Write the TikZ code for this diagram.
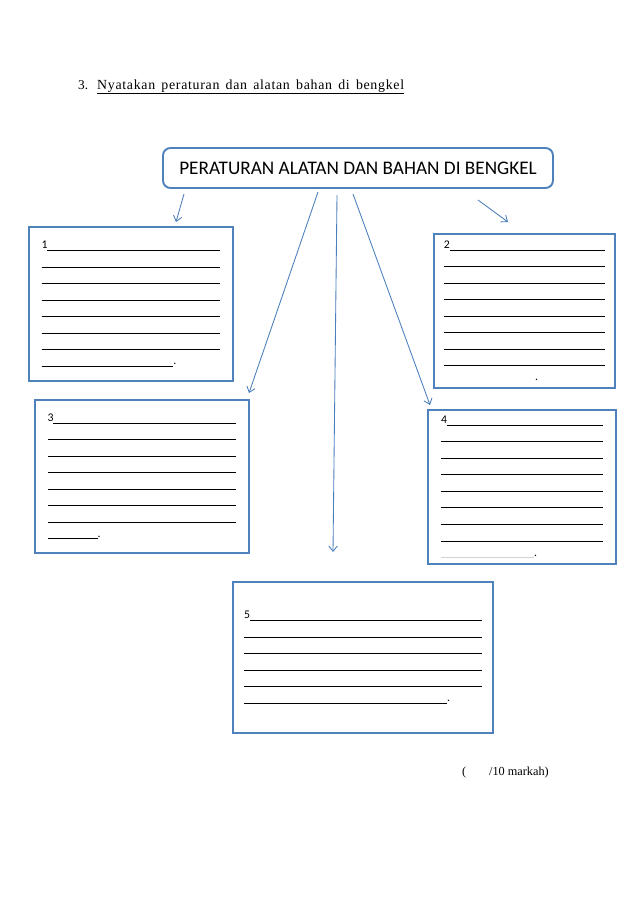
\documentclass[tikz,border=0pt]{standalone}
\usepackage{fontspec}
\setmainfont{Carlito}
\newfontfamily\timesfont[LetterSpace=5]{Liberation Serif}
\newfontfamily\plaintimes{Liberation Serif}
\usetikzlibrary{arrows.meta}
\definecolor{boxblue}{HTML}{4F81BD}
\definecolor{arrowblue}{HTML}{4A7EBB}
\newcommand\px{0.032915cm}
\newcommand\ansline[2][]{\makebox[#2][l]{#1\leaders\hrule height -1pt depth 1.7pt\hfill}}
\begin{document}
\begin{tikzpicture}[x=\px,y=-\px,
  hdrbox/.style={draw=boxblue,line width=1.8pt,rounded corners=7pt,inner sep=0pt,
    minimum width=390*\px,minimum height=40*\px,font=\fontsize{18}{20}\selectfont},
  answerbox/.style={draw=boxblue,line width=2pt,inner sep=0pt,align=left,
    font=\fontsize{11}{15.5}\selectfont},
  link/.style={arrowblue,line width=0.8pt,-{Straight Barb[length=5pt,width=8pt]}}]
\useasboundingbox (0,0) rectangle (638,903);
\node[anchor=base west,inner sep=0pt,font=\plaintimes\fontsize{12.5}{14}\selectfont] (qnum) at (78,89) {3.};
\node[anchor=base west,inner sep=0pt,font=\timesfont\fontsize{13}{15}\selectfont] (qtext) at (97,89)
  {\underline{\makebox[10.1cm][s]{Nyatakan peraturan dan alatan bahan di bengkel}}};
\node[hdrbox] (hdr) at (358,168) {PERATURAN ALATAN DAN BAHAN DI BENGKEL};
\node[answerbox,minimum width=204*\px,minimum height=154*\px,text width=5.89cm] (b1) at (131,304)
  {\ansline[1]{5.89cm}\\ \ansline{5.89cm}\\ \ansline{5.89cm}\\ \ansline{5.89cm}\\
   \ansline{5.89cm}\\ \ansline{5.89cm}\\ \ansline{5.89cm}\\ \ansline{4.34cm}.};
\node[answerbox,minimum width=181*\px,minimum height=154*\px,text width=5.30cm] (b2) at (524.5,311)
  {\ansline[2]{5.30cm}\\ \ansline{5.30cm}\\ \ansline{5.30cm}\\ \ansline{5.30cm}\\
   \ansline{5.30cm}\\ \ansline{5.30cm}\\ \ansline{5.30cm}\\ \ansline{5.30cm}\\ \hspace*{3.0cm}.};
\node[answerbox,minimum width=214*\px,minimum height=153*\px,text width=6.22cm] (b3) at (142,476.5)
  {\ansline[3]{6.22cm}\\ \ansline{6.22cm}\\ \ansline{6.22cm}\\ \ansline{6.22cm}\\
   \ansline{6.22cm}\\ \ansline{6.22cm}\\ \ansline{6.22cm}\\ \ansline{1.65cm}.};
\node[answerbox,minimum width=188*\px,minimum height=154*\px,text width=5.33cm] (b4) at (522,487)
  {\ansline[4]{5.33cm}\\ \ansline{5.33cm}\\ \ansline{5.33cm}\\ \ansline{5.33cm}\\
   \ansline{5.33cm}\\ \ansline{5.33cm}\\ \ansline{5.33cm}\\ \ansline{5.33cm}\\
   \textcolor{gray!35}{\ansline{3.06cm}}.};
\node[answerbox,minimum width=260*\px,minimum height=151*\px,text width=7.83cm] (b5) at (363,657.5)
  {\ansline[5]{7.83cm}\\ \ansline{7.83cm}\\ \ansline{7.83cm}\\ \ansline{7.83cm}\\
   \ansline{7.83cm}\\ \ansline{6.68cm}.};
\node[anchor=base west,inner sep=0pt,font=\plaintimes\fontsize{11.5}{14}\selectfont] (marks) at (462,775)
  {(\hspace{0.75cm}/10 markah)};
\coordinate (s1) at (184,194);
\coordinate (e1) at (176,222);
\coordinate (s2) at (478,200);
\coordinate (e2) at (508,222);
\coordinate (s3) at (318,192);
\coordinate (e3) at (249,393);
\coordinate (s4) at (337,195);
\coordinate (e4) at (333,552);
\coordinate (s5) at (353,194);
\coordinate (e5) at (430,405);
\path[link]
  (s1) edge (e1)
  (s2) edge (e2)
  (s3) edge (e3)
  (s4) edge (e4)
  (s5) edge (e5)
;
\end{tikzpicture}
\end{document}
